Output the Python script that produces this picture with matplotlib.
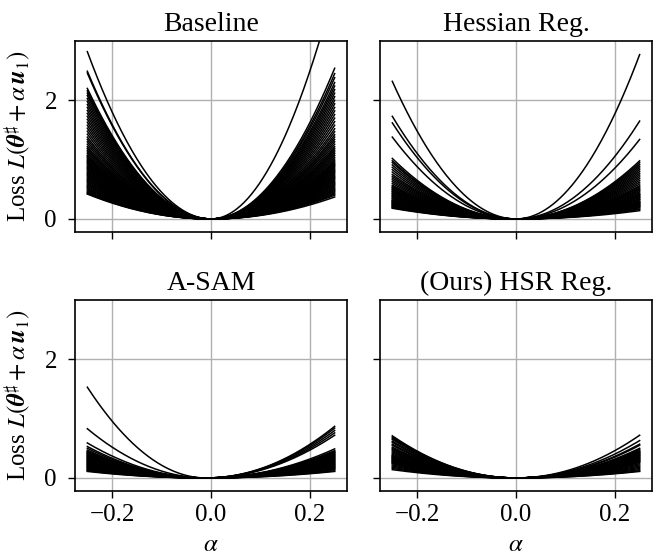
import numpy as np
import matplotlib
matplotlib.use('Agg')
import matplotlib.pyplot as plt

plt.rcParams['font.family'] = ['Liberation Serif', 'DejaVu Serif']
plt.rcParams['mathtext.fontset'] = 'stix'
plt.rcParams['font.size'] = 18

titles = ['Baseline', 'Hessian Reg.', 'A-SAM', '(Ours) HSR Reg.']

# loss value at alpha = -0.25 (left) and alpha = +0.25 (right) for each curve
baseline_left = [2.82, 2.49, 2.46, 2.20, 2.16, 2.12, 2.08, 2.03, 1.98, 1.93, 1.88, 1.83, 1.78,
                 1.73, 1.68, 1.63, 1.58, 1.53, 1.48, 1.43, 1.38, 1.34, 1.30, 1.26, 1.22,
                 1.19, 1.16, 1.13, 1.10, 1.07, 1.05, 1.03, 1.01, 0.99, 0.97, 0.95, 0.93, 0.91,
                 0.89, 0.87, 0.85, 0.83, 0.81, 0.79, 0.77, 0.75, 0.73, 0.71, 0.69, 0.67, 0.65,
                 0.63, 0.61, 0.59, 0.57, 0.55, 0.53, 0.51, 0.49, 0.47, 0.45, 0.43, 0.42]
baseline_right = [3.90, 2.54, 2.45, 2.38, 2.30, 2.24, 2.18, 2.12, 2.06, 2.00, 1.94, 1.88, 1.82,
                  1.76, 1.70, 1.64, 1.58, 1.52, 1.47, 1.42, 1.38, 1.34, 1.30, 1.26, 1.22,
                  1.19, 1.16, 1.13, 1.10, 1.07, 1.04, 1.01, 0.98, 0.96, 0.94, 0.92, 0.90, 0.88,
                  0.86, 0.84, 0.82, 0.80, 0.78, 0.76, 0.74, 0.72, 0.70, 0.68, 0.66, 0.64, 0.62,
                  0.60, 0.58, 0.56, 0.54, 0.52, 0.50, 0.48, 0.46, 0.44, 0.42, 0.40, 0.37]

hessian_left = [2.32, 1.73, 1.62, 1.38, 1.02, 0.98, 0.95, 0.91, 0.87, 0.83, 0.79, 0.75, 0.72,
                0.69, 0.66, 0.63, 0.60, 0.57, 0.55, 0.53, 0.52, 0.50, 0.49, 0.47, 0.46, 0.44,
                0.43, 0.41, 0.40, 0.38, 0.37, 0.35, 0.34, 0.32, 0.31, 0.30, 0.29, 0.28, 0.27,
                0.26, 0.25, 0.24, 0.23, 0.22, 0.21, 0.20, 0.19, 0.18]
hessian_right = [2.77, 1.65, 1.34, 0.98, 0.95, 0.92, 0.89, 0.86, 0.83, 0.80, 0.77, 0.74, 0.71,
                 0.68, 0.65, 0.62, 0.59, 0.56, 0.54, 0.52, 0.50, 0.48, 0.46, 0.44, 0.42, 0.41,
                 0.40, 0.38, 0.37, 0.36, 0.34, 0.33, 0.32, 0.30, 0.29, 0.28, 0.27, 0.26, 0.25,
                 0.24, 0.23, 0.22, 0.21, 0.20, 0.19, 0.17, 0.16, 0.14]

asam_left = [1.53, 0.83, 0.59, 0.53, 0.50, 0.47, 0.45, 0.44, 0.43, 0.42, 0.41, 0.40, 0.39,
             0.38, 0.37, 0.36, 0.35, 0.34, 0.33, 0.32, 0.31, 0.30, 0.29, 0.28, 0.27, 0.26,
             0.25, 0.24, 0.23, 0.22, 0.21, 0.20, 0.19, 0.18, 0.17, 0.16, 0.15, 0.14, 0.13,
             0.12, 0.11]
asam_right = [0.87, 0.84, 0.80, 0.76, 0.72, 0.49, 0.46, 0.45, 0.44, 0.43, 0.42, 0.41, 0.40,
              0.39, 0.38, 0.37, 0.36, 0.35, 0.34, 0.33, 0.32, 0.31, 0.30, 0.29, 0.28, 0.27,
              0.26, 0.25, 0.24, 0.23, 0.22, 0.21, 0.20, 0.19, 0.18, 0.17, 0.16, 0.15, 0.14,
              0.12, 0.11]

hsr_left = [0.71, 0.69, 0.67, 0.65, 0.62, 0.60, 0.57, 0.55, 0.52, 0.50, 0.48, 0.46, 0.44,
            0.42, 0.40, 0.38, 0.37, 0.36, 0.35, 0.34, 0.33, 0.32, 0.31, 0.30, 0.29, 0.28,
            0.27, 0.26, 0.25, 0.24, 0.22, 0.20, 0.18, 0.16, 0.14]
hsr_right = [0.72, 0.63, 0.57, 0.55, 0.50, 0.48, 0.46, 0.45, 0.44, 0.43, 0.42, 0.41, 0.40,
             0.39, 0.38, 0.37, 0.36, 0.35, 0.34, 0.33, 0.32, 0.31, 0.30, 0.29, 0.28, 0.27,
             0.26, 0.24, 0.22, 0.20, 0.18, 0.16, 0.14, 0.12, 0.11]

# location of the minimum along alpha
centers = [0.0, 0.0, -0.01, 0.0]

lefts = [baseline_left, hessian_left, asam_left, hsr_left]
rights = [baseline_right, hessian_right, asam_right, hsr_right]

alpha = np.linspace(-0.25, 0.25, 201)

fig, axes = plt.subplots(2, 2, figsize=(6.67, 5.6), dpi=100, sharex=True, sharey=True)
fig.subplots_adjust(left=0.1124, right=0.9775, bottom=0.1232, top=0.9268,
                    wspace=0.121, hspace=0.356)

for k, ax in enumerate(axes.flat):
    c = centers[k]
    for L, R in zip(lefts[k], rights[k]):
        y = np.where(alpha < c,
                     L * ((alpha - c) / (-0.25 - c)) ** 2,
                     R * ((alpha - c) / (0.25 - c)) ** 2)
        ax.plot(alpha, y, color='k', lw=1.1)
    ax.set_title(titles[k], fontsize=20, pad=7)
    ax.grid(True, color='#b0b0b0', lw=1.0)
    ax.set_axisbelow(True)
    for s in ax.spines.values():
        s.set_linewidth(1.2)
    ax.tick_params(axis='x', width=1.0, length=5, pad=4)
    ax.tick_params(axis='y', width=1.0, length=5, pad=8)

axes[0, 0].set_ylim(-0.22, 3.0)
axes[0, 0].set_xticks([-0.2, 0.0, 0.2])
axes[0, 0].set_yticks([0, 2])
for ax in axes[:, 0]:
    ax.set_ylabel(r'Loss $L(\boldsymbol{\theta}^{\sharp} + \alpha\,\boldsymbol{u}_1)$', labelpad=8)
for ax in axes[1, :]:
    ax.set_xlabel(r'$\alpha$', labelpad=6)

fig.savefig('out.png', dpi=100)
